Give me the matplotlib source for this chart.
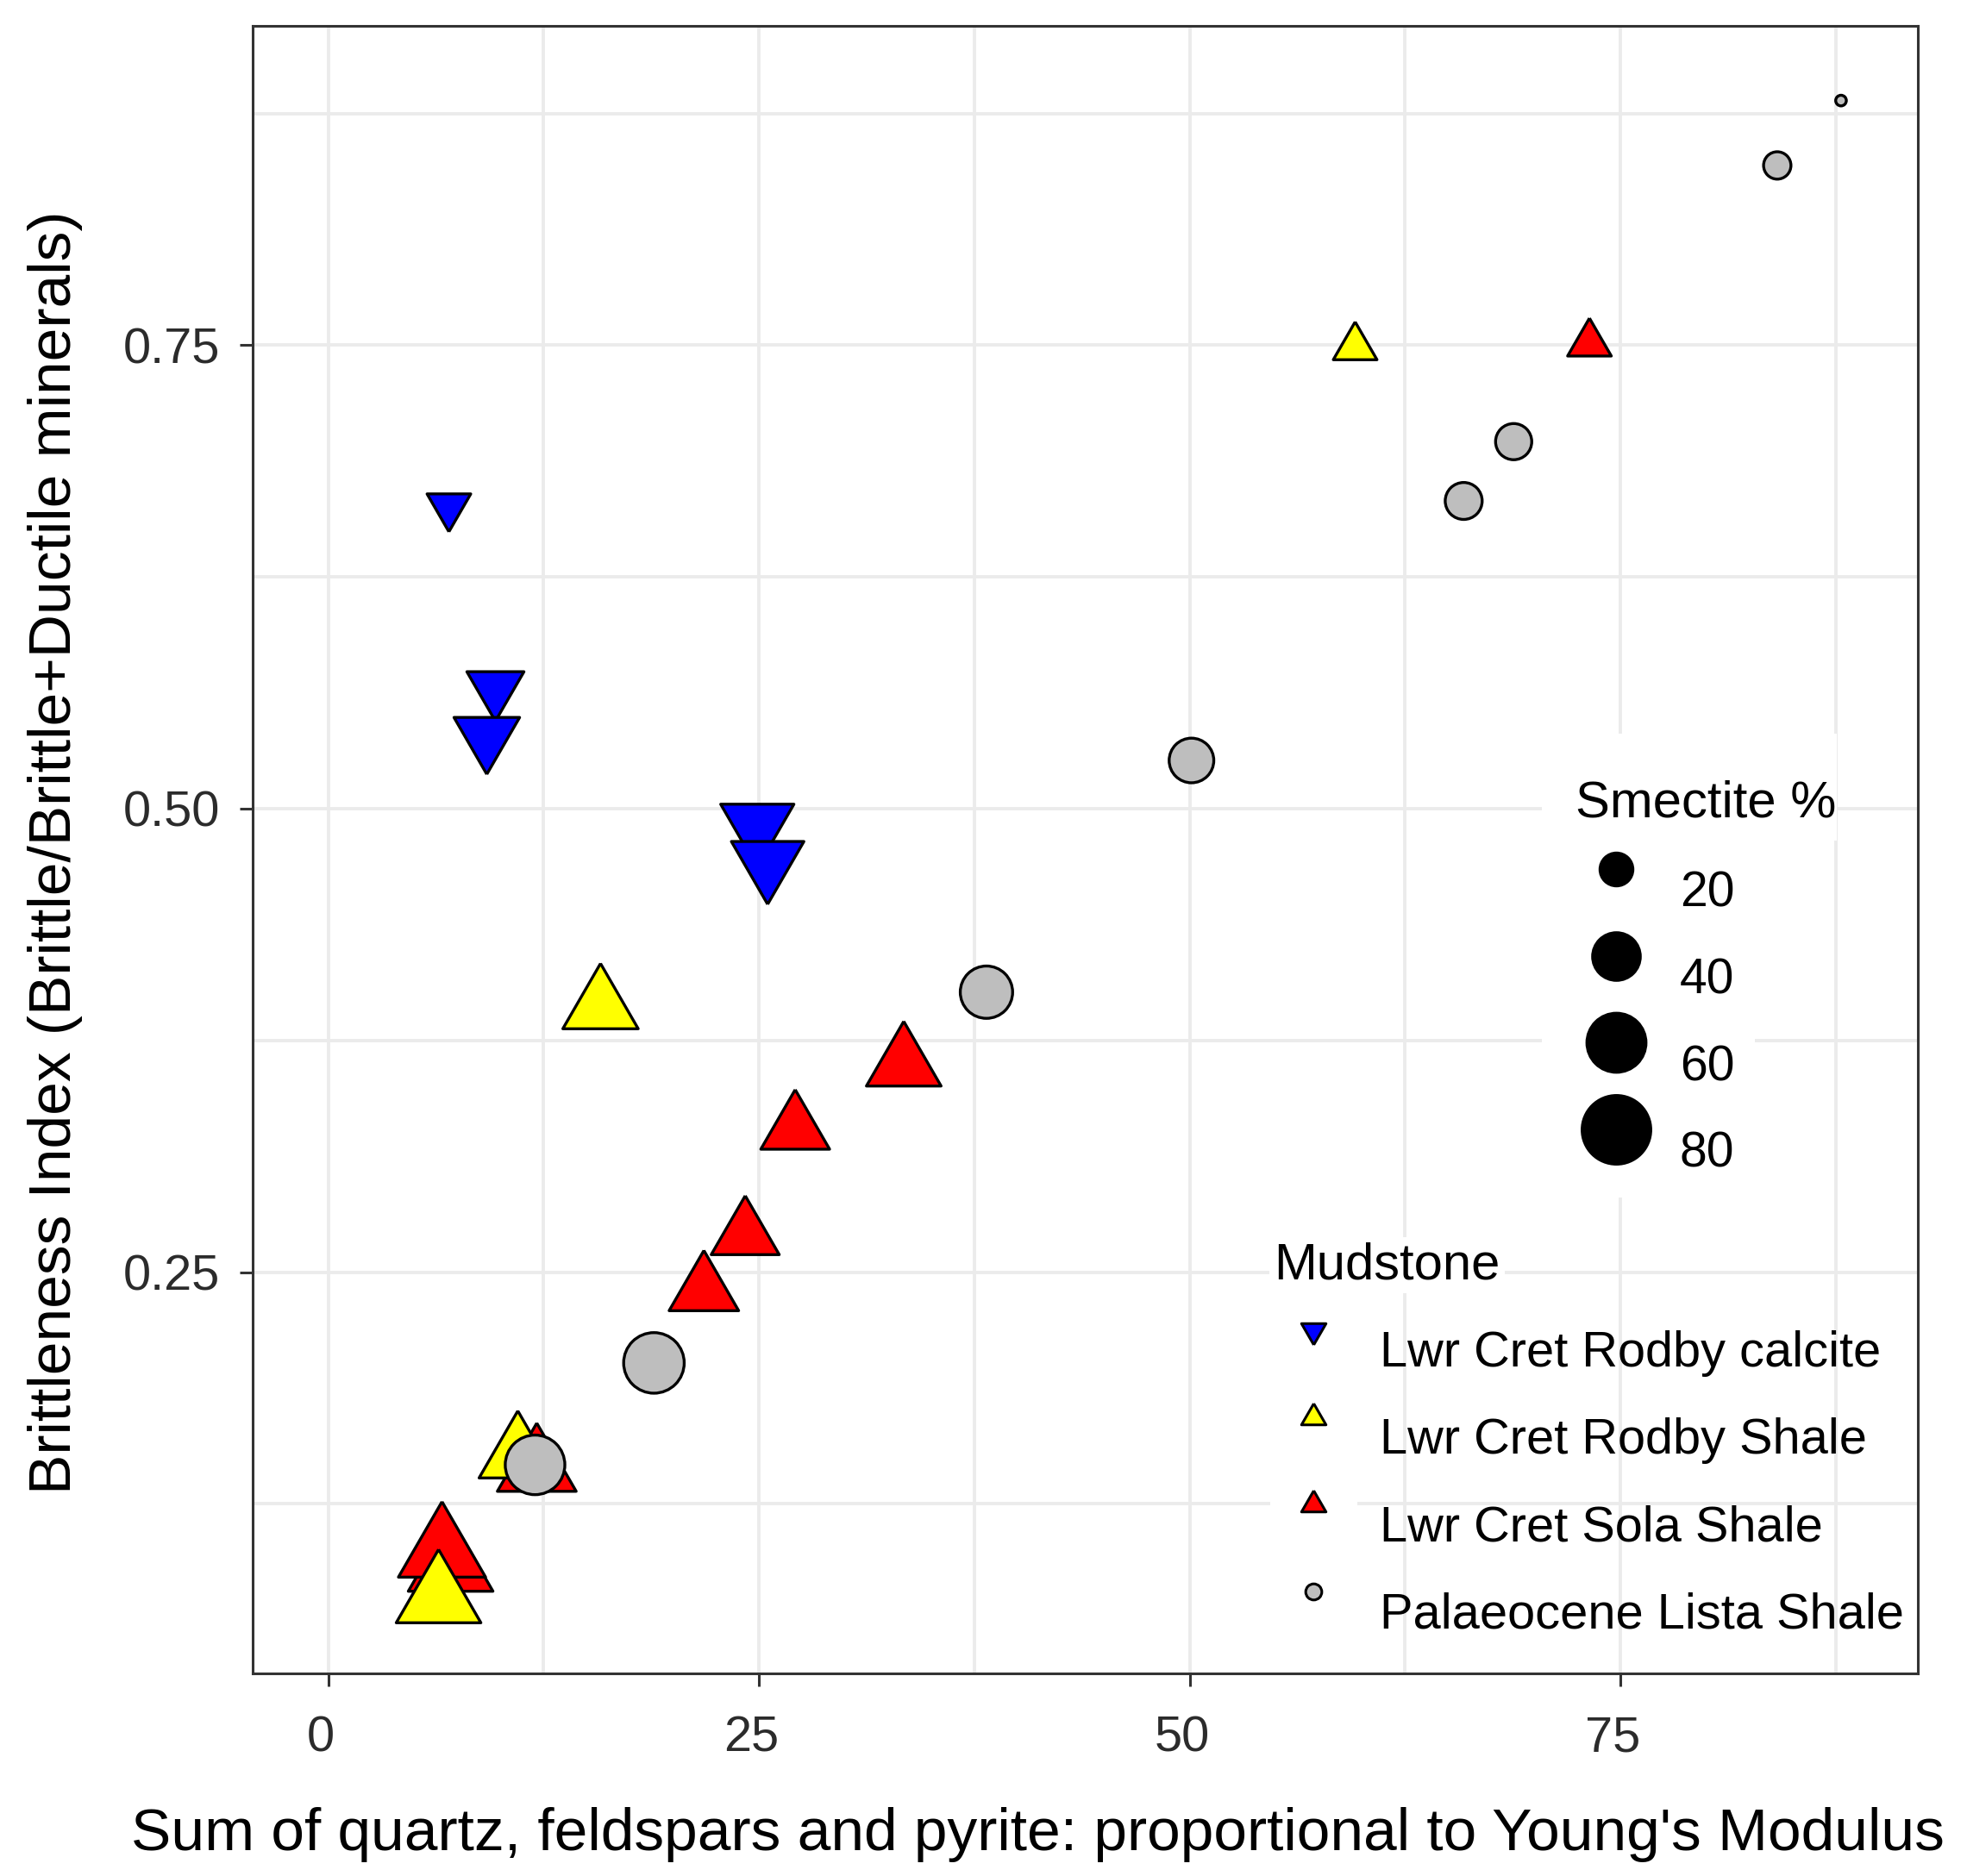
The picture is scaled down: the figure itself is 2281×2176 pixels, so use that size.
import matplotlib.pyplot as plt
import matplotlib.transforms as mtransforms
from matplotlib.patches import Rectangle
import numpy as np

plt.rcParams['font.family'] = ['Liberation Sans', 'DejaVu Sans']

# --- data ---
groups = ['Lwr Cret Rodby calcite', 'Lwr Cret Rodby Shale',
          'Lwr Cret Sola Shale', 'Palaeocene Lista Shale']
colors = ['#0000FF', '#FFFF00', '#FF0000', '#BEBEBE']

calcite_x = [7.0, 9.7, 9.2, 24.9, 25.5]
calcite_y = [0.663, 0.565, 0.539, 0.491, 0.471]
calcite_smec = [20, 33, 43, 53, 52]

rodby_x = [15.8, 59.6, 11.0, 6.4]
rodby_y = [0.393, 0.749, 0.151, 0.074]
rodby_smec = [56, 20, 59, 70]

sola_x = [73.2, 33.4, 27.1, 24.2, 21.8, 12.1, 7.1, 6.6]
sola_y = [0.751, 0.362, 0.327, 0.270, 0.240, 0.144, 0.091, 0.099]
sola_smec = [20, 55, 47, 46, 48, 61, 70, 74]

lista_x = [87.8, 84.1, 68.8, 65.9, 50.1, 38.2, 18.9, 12.0]
lista_y = [0.882, 0.847, 0.698, 0.666, 0.526, 0.401, 0.201, 0.146]
lista_smec = [3, 15, 25, 26, 37, 50, 66, 64]

size_breaks = [20, 40, 60, 80]
x_ticks = [0, 25, 50, 75]
y_ticks = [0.25, 0.50, 0.75]

# --- markers & sizes (ggplot-like area scaling) ---
DPI = 200
PX = DPI / 72.0
tri_up = [(0, 1), (-0.866, -0.5), (0.866, -0.5), (0, 1)]
tri_down = [(0, -1), (-0.866, 0.5), (0.866, 0.5), (0, -1)]


def circle_size(smec):
    d = np.sqrt(82 * np.asarray(smec, float)) / PX - 1.2
    return d ** 2


def tri_size(smec):
    side = 1.347 * np.sqrt(82 * np.asarray(smec, float)) / PX
    return (side / 0.866 - 1.6) ** 2


fig = plt.figure(figsize=(2281 / DPI, 2176 / DPI), dpi=DPI)
ax = fig.add_axes([293 / 2281, 1 - 1941 / 2176, 1931 / 2281, 1911 / 2176])

grid_c = '#EBEBEB'
ax.set_axisbelow(True)
ax.set_xticks(x_ticks)
ax.set_yticks(y_ticks)
ax.set_xticks([12.5, 37.5, 62.5, 87.5], minor=True)
ax.set_yticks([0.125, 0.375, 0.625, 0.875], minor=True)
ax.grid(True, which='both', color=grid_c, lw=1.4)
ax.tick_params(which='minor', length=0)
ax.tick_params(which='major', length=5.4, width=1.1, color='#333333',
               labelsize=20.8, labelcolor='#2b2b2b')
ax.tick_params(axis='x', pad=12)
ax.tick_params(axis='y', pad=8.3)
ax.set_yticklabels(['0.25', '0.50', '0.75'])
shift = mtransforms.ScaledTranslation(-9 / DPI, 0, fig.dpi_scale_trans)
for lab in ax.get_xticklabels():
    lab.set_transform(lab.get_transform() + shift)
for sp in ax.spines.values():
    sp.set_color('#333333')
    sp.set_linewidth(1.1)

ax.set_xlim(-4.39, 92.26)
ax.set_ylim(0.0335, 0.9223)

ek = dict(edgecolors='black', linewidths=1.2, zorder=3)
ax.scatter(sola_x, sola_y, s=tri_size(sola_smec), marker=tri_up, c=colors[2], **ek)
ax.scatter(rodby_x, rodby_y, s=tri_size(rodby_smec), marker=tri_up, c=colors[1], **ek)
ax.scatter(calcite_x, calcite_y, s=tri_size(calcite_smec), marker=tri_down, c=colors[0], **ek)
ax.scatter(lista_x, lista_y, s=circle_size(lista_smec), marker='o', c=colors[3], **ek)

ax.set_xlabel("Sum of quartz, feldspars and pyrite: proportional to Young's Modulus",
              fontsize=25, color='black')
ax.set_ylabel('Brittleness Index (Brittle/Brittle+Ductile minerals)',
              fontsize=25, color='black')
ax.xaxis.label.set_va('baseline')
ax.yaxis.label.set_va('baseline')
ax.xaxis.set_label_coords(0.4715, -0.1073)
ax.yaxis.set_label_coords(-0.1093, 0.4982)


# --- legends, placed like the original (pixel layout -> axes fraction) ---
def ax_pos(px, py):
    return (px - 293) / 1931, (1941 - py) / 1911


tr = ax.transAxes
# smectite legend background
for (x0, y0, x1, y1) in [(1788, 851, 2130, 975), (1788, 975, 2035, 1389)]:
    a0 = ax_pos(x0, y1)
    a1 = ax_pos(x1, y0)
    ax.add_patch(Rectangle(a0, a1[0] - a0[0], a1[1] - a0[1], transform=tr,
                           facecolor='white', edgecolor='none', zorder=1.5))
tx, ty = ax_pos(1827, 948)
ax.text(tx, ty, 'Smectite %', transform=tr, fontsize=21.5, va='baseline', ha='left', zorder=4)
for i, b in enumerate(size_breaks):
    cx, cy = ax_pos(1874, 1008 + 100.5 * i)
    ax.scatter([cx], [cy], s=circle_size([b]) * 1.05, c='black', edgecolors='black',
               linewidths=1.2, transform=tr, clip_on=False, zorder=4)
    lx, ly = ax_pos(1948, 1052 + 100.5 * i)
    ax.text(lx, ly, str(b), transform=tr, fontsize=20.5, va='baseline', ha='left', zorder=4)

# mudstone legend
tx, ty = ax_pos(1477, 1483)
ax.text(tx, ty, 'Mudstone', transform=tr, fontsize=21.5, va='baseline', ha='left', zorder=4,
        bbox=dict(facecolor='white', edgecolor='none', pad=2))
key_markers = [tri_down, tri_up, tri_up, 'o']
key_sizes = [140, 140, 140, 45]
for i, g in enumerate(groups):
    kx, ky = ax_pos(1523, 1543 + 101 * i)
    a0 = ax_pos(1473, 1543 + 101 * i + 48)
    a1 = ax_pos(1574, 1543 + 101 * i - 48)
    ax.add_patch(Rectangle(a0, a1[0] - a0[0], a1[1] - a0[1], transform=tr,
                           facecolor='white', edgecolor='none', zorder=1.5))
    ax.scatter([kx], [ky], s=key_sizes[i], marker=key_markers[i], c=colors[i],
               edgecolors='black', linewidths=1.1, transform=tr, clip_on=False, zorder=4)
    lx, ly = ax_pos(1600, 1585 + 101.3 * i)
    ax.text(lx, ly, g, transform=tr, fontsize=20.8, va='baseline', ha='left', zorder=4)

fig.savefig('out.png', dpi=DPI, facecolor='white')
